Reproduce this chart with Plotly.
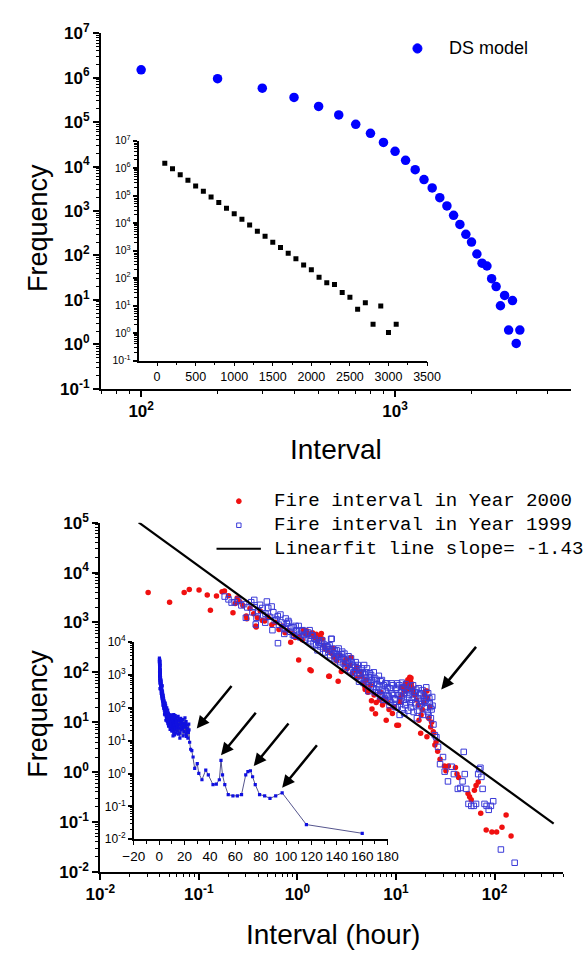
import plotly.graph_objects as go
import math

# ---------------- data ----------------
# DS model (top panel): interval vs frequency
ds_interval = [100, 200, 300, 400, 500, 600, 700, 800, 900, 1000, 1100, 1200, 1300, 1400, 1500, 1600,
               1700, 1800, 1900, 2000, 2100, 2200, 2300, 2400, 2500, 2600, 2700, 2800, 2900, 3000, 3100]
ds_freq = [1.5e6, 9.5e5, 5.8e5, 3.6e5, 2.25e5, 1.45e5, 8.9e4, 5.6e4, 3.5e4, 2.2e4, 1.38e4, 8.5e3, 5.1e3,
           3.3e3, 2.0e3, 1.3e3, 800, 500, 300, 200, 108, 67, 58, 30, 20, 7.4, 12.6, 2.1, 9.7, 1.05, 2.1]

# Fire interval in year 1999 (hours, frequency)
fire1999_x = [0.183, 0.2, 0.215, 0.231, 0.25, 0.27, 0.288, 0.3, 0.31, 0.34, 0.35, 0.365, 0.369, 0.378, 0.385,
              0.4, 0.418, 0.439, 0.45, 0.472, 0.474, 0.49,
              0.506, 0.52, 0.548, 0.558, 0.57, 0.59, 0.612, 0.632, 0.635, 0.65, 0.673, 0.69, 0.71, 0.736, 0.748,
              0.76, 0.78, 0.81, 0.822, 0.85, 0.87, 0.9, 0.918, 0.93, 0.96, 0.98,
              1.03, 1.04, 1.07, 1.1, 1.13, 1.16, 1.2, 1.24, 1.28, 1.3, 1.33, 1.36, 1.39, 1.43, 1.46, 1.5, 1.55,
              1.6, 1.63, 1.65, 1.7, 1.75, 1.79, 1.83, 1.87, 1.92, 1.96, 2.0,
              2.02, 2.06, 2.1, 2.12, 2.15, 2.2, 2.23, 2.28, 2.33, 2.38, 2.4, 2.45, 2.5, 2.55, 2.59, 2.62, 2.65,
              2.72, 2.8, 2.85, 2.88, 2.95, 3.0, 3.05, 3.08, 3.15, 3.25, 3.3, 3.35, 3.45, 3.5, 3.55, 3.62, 3.7,
              3.76, 3.85, 3.9, 3.95, 4.05, 4.1, 4.15, 4.22, 4.3, 4.4, 4.52, 4.6, 4.69, 4.75, 4.8, 4.9,
              5.0, 5.08, 5.15, 5.25, 5.3, 5.43, 5.55, 5.6, 5.7, 5.85, 5.95, 6.0, 6.1, 6.15, 6.3, 6.38, 6.45,
              6.6, 6.7, 6.8, 6.9, 7.0, 7.15, 7.2, 7.31, 7.4, 7.5, 7.7, 7.8, 7.9, 8.0, 8.1, 8.2, 8.3, 8.47, 8.6,
              8.7, 8.9, 9.0, 9.1, 9.3, 9.4, 9.5, 9.7, 9.83, 9.9, 10.0,
              10.2, 10.3, 10.4, 10.6, 10.8, 10.9, 11.0, 11.2, 11.4, 11.5, 11.6, 11.8, 12.0, 12.1, 12.2, 12.4,
              12.6, 12.7, 12.9, 13.1, 13.3, 13.4, 13.6, 13.9, 14.0, 14.2, 14.5, 14.8, 14.9, 15.1, 15.4, 15.7,
              15.8, 16.0, 16.3, 16.5, 16.8, 17.0, 17.2, 17.6, 17.9, 18.0, 18.4, 18.6, 18.8, 19.2, 19.4, 19.6,
              20.0, 20.3, 20.6, 21.0, 21.2, 21.4, 21.8, 22.0, 22.3, 22.6, 23.0, 23.3, 23.5, 24.0, 24.8,
              25.7, 26.7, 28.0, 30.0, 31.2, 33.7, 36.7, 38.7, 42.4, 45.0, 47.4, 48.7, 49.9, 51.7, 54.4, 58.1,
              61.6, 64.9, 68.2, 69.9, 71.9, 73.6, 75.7, 79.1, 83.1, 87.3, 91.8, 96.9, 116, 160]
fire1999_y = [3300, 2900, 2500, 2550, 2830, 2200, 2330, 1240, 2000, 2550, 1600, 2830, 2010, 912, 1240,
              1700, 2260, 1950, 1400, 990, 1500, 2630,
              1950, 1300, 2090, 700, 1600, 1100, 1150, 1340, 384, 900, 1440, 1000, 800, 590, 732,
              1200, 950, 1070, 990, 650, 800, 560, 794, 544, 852, 700,
              850, 590, 501, 680, 700, 560, 450, 600, 631, 480, 700, 420, 544, 544, 380, 470, 350,
              276, 400, 434, 330, 390, 434, 300, 360, 250, 330, 320,
              331, 260, 290, 350, 220, 468, 468, 300, 240, 190, 270, 200, 276, 230, 176, 300, 210,
              160, 230, 260, 190, 150, 237, 120, 180, 130, 170, 210, 150, 110, 190, 160, 140, 100,
              96, 130, 160, 110, 85, 140, 120, 65, 95, 75, 120, 100, 61, 140, 90, 70,
              100, 120, 65, 42, 80, 96, 55, 88, 70, 48, 100, 62, 40, 75, 45, 70, 58,
              38, 85, 52, 33, 66, 35, 70, 45, 28, 55, 30, 60, 42, 35, 60, 50, 28, 33.6, 22,
              48, 25, 60, 38, 55, 35, 22, 30, 28.9, 20, 45,
              48.9, 60, 20, 35, 55, 14, 26, 40, 33.6, 62, 18, 50, 28, 15, 38, 22,
              58, 24.8, 45, 30, 17, 42, 36, 52, 24, 19.8, 28, 40, 55, 16, 32, 24,
              40, 45, 12, 17.1, 30, 48, 21, 38, 36, 26, 23.1, 44, 14, 34, 26, 19,
              27, 50, 31.1, 16, 38, 13.6, 30, 24, 20, 12, 18, 32, 21.4, 9, 5.5,
              5.0, 3.2, 1.44, 2.0, 1.02, 0.65, 1.28, 0.91, 0.46, 0.48, 0.65, 2.54, 0.91, 0.46, 0.23, 0.21,
              0.21, 0.23, 0.91, 1.14, 1.22, 0.8, 0.46, 0.23, 0.21, 0.175, 0.21, 0.26, 0.028, 0.0152]

# Fire interval in year 2000 (hours, frequency)
fire2000_x = [0.0306, 0.0505, 0.071, 0.080, 0.1005, 0.1217, 0.131, 0.151, 0.172, 0.182, 0.2, 0.222, 0.234,
              0.245, 0.26, 0.28, 0.303, 0.307, 0.33, 0.36, 0.378, 0.382, 0.393, 0.42, 0.44, 0.466, 0.5, 0.55,
              0.6, 0.65, 0.7, 0.75, 0.8, 0.855, 0.9, 0.95, 1.03, 1.05, 1.12, 1.15, 1.2, 1.24, 1.3, 1.34, 1.38,
              1.42, 1.45, 1.49, 1.55, 1.6, 1.66, 1.72, 1.75, 1.79, 1.85, 1.9, 2.0, 2.08, 2.11, 2.2, 2.3, 2.35,
              2.5, 2.59, 2.7, 2.79, 3.0, 3.1, 3.2, 3.4, 3.5, 3.6, 3.9, 4.0, 4.1, 4.35, 4.52, 4.7, 4.83, 4.87,
              5.0, 5.2, 5.5, 5.64, 5.71, 6.0, 6.2, 6.3, 6.8, 7.0, 7.3, 7.6, 7.96, 8.2, 8.5, 9.2, 9.6, 10.2,
              10.6, 10.9, 11.0, 11.3, 11.5, 12.0, 12.3, 12.5, 12.7, 13.0, 13.2, 13.5, 13.7, 13.8, 14.0, 14.2,
              14.3, 14.5, 14.8, 15.0, 15.5, 16.2, 16.8, 17.1, 17.8, 18.0, 18.5, 19.2, 19.5, 19.9, 20.6, 20.6,
              21.0, 21.5, 22.0, 22.5, 23.0, 23.9, 24.2, 24.8, 25.5, 26.5, 28.0, 31.0, 32.1, 34.0, 40.1, 41.6,
              43.2, 53.8, 55.8, 58.0, 62.5, 64.9, 68.3, 72.4, 82.3, 94.0, 105, 119, 131, 147]
fire2000_y = [4000, 2550, 4000, 4600, 4450, 3550, 1760, 3400, 4140, 4250, 3450, 1560, 2410,
              3100, 2600, 2200, 1340, 1190, 1900, 1500, 851, 815, 1240, 1700, 1100, 1070, 1300, 900,
              1000, 720, 850, 620, 700, 402, 600, 500, 176, 520, 450, 700, 600, 680, 560, 112, 108,
              620, 560, 500, 580, 420, 544, 480, 600, 468, 350, 300, 276, 83, 83, 240, 300, 200,
              170, 66, 220, 104, 150, 180, 120, 140, 200, 95, 110, 130, 80, 104, 83, 60, 52, 45,
              70, 40, 55, 26.8, 18.4, 35, 14.7, 24.8, 28, 40, 22, 30, 10.9, 25, 18, 15, 20, 8.7,
              8.7, 30, 25, 50, 35, 45, 42, 60, 53, 62, 71, 57, 45, 80, 66, 77,
              60, 50, 45, 40, 35, 28, 22, 10.9, 5.97, 14, 18, 25, 35, 42, 42, 5.1,
              30, 12, 20, 8, 10, 6.4, 6, 3.5, 4.0, 2.6, 1.8, 1.32, 1.06, 1.32, 1.23, 0.91,
              0.78, 0.37, 0.32, 0.28, 0.43, 0.54, 0.63, 0.15, 0.069, 0.063, 0.063, 0.0785, 0.137, 0.052]

# Linear fit line (slope = -1.43), end points
fit_x = [0.0245, 398]
fit_y = [1.016e5, 0.0925]

# Arrow targets: (x, y) in data units
inset_arrow_targets = [(29.6, 23.5), (48.7, 3.6), (74.5, 1.7), (96.9, 0.37)]
main_arrow_target = (28.8, 45.5)

# ---------------- geometry helpers ----------------
W, H = 586, 959
def fx(p):
    return p / W
def fy(p):
    return 1 - p / H

def sup_labels(exps):
    return ["10<sup>%d</sup>" % e for e in exps]

BOLD = dict(family="Liberation Sans", size=17, color="black", weight="bold")
REG = "Liberation Sans"

# inset line needs points ordered by x
order = sorted(range(len(fire1999_x)), key=lambda i: fire1999_x[i])
inset_x = [fire1999_x[i] for i in order]
inset_y = [fire1999_y[i] for i in order]

fig = go.Figure()

# top main: DS model
fig.add_trace(go.Scatter(x=ds_interval, y=ds_freq, mode="markers", xaxis="x", yaxis="y",
                         marker=dict(symbol="circle", size=9.5, color="#0000ff"), showlegend=False))
# top inset: same data on linear x
fig.add_trace(go.Scatter(x=ds_interval, y=ds_freq, mode="markers", xaxis="x3", yaxis="y3",
                         marker=dict(symbol="square", size=5, color="black"), showlegend=False))
# bottom main
fig.add_trace(go.Scatter(x=fire2000_x, y=fire2000_y, mode="markers", xaxis="x2", yaxis="y2",
                         marker=dict(symbol="circle", size=5.5, color="#f01010"), showlegend=False))
fig.add_trace(go.Scatter(x=fire1999_x, y=fire1999_y, mode="markers", xaxis="x2", yaxis="y2",
                         marker=dict(symbol="square-open", size=5.5, color="#3a3ad8",
                                     line=dict(width=1)), showlegend=False))
fig.add_trace(go.Scatter(x=fit_x, y=fit_y, mode="lines", xaxis="x2", yaxis="y2",
                         line=dict(color="black", width=2.2), showlegend=False))
# bottom inset: 1999 data on linear x
fig.add_trace(go.Scatter(x=inset_x, y=inset_y, mode="lines+markers", xaxis="x4", yaxis="y4",
                         line=dict(color="#2a2a70", width=0.8),
                         marker=dict(symbol="square", size=3.2, color="#1010e0"), showlegend=False))

def log_axis(domain, rng, tick_exps, anchor, font=BOLD, lw=2, tl=6, mtl=3.5):
    return dict(type="log", domain=domain, range=rng, anchor=anchor,
                tickmode="array", tickvals=[10 ** e for e in tick_exps], ticktext=sup_labels(tick_exps),
                showline=True, linecolor="black", linewidth=lw, ticks="outside", ticklen=tl,
                tickwidth=lw, tickcolor="black", showgrid=False, zeroline=False, tickfont=font,
                minor=dict(ticks="outside", ticklen=mtl, tickwidth=1.1, tickcolor="black",
                           dtick="D1", showgrid=False))

def lin_axis(domain, rng, dtick, mdtick, anchor, font):
    return dict(type="linear", domain=domain, range=rng, anchor=anchor, tick0=0, dtick=dtick,
                tickangle=0, showline=True, linecolor="black", linewidth=1.5, ticks="outside", ticklen=4,
                tickwidth=1.3, tickcolor="black", showgrid=False, zeroline=False, tickfont=font,
                minor=dict(ticks="outside", ticklen=2.5, tickwidth=1, tickcolor="black",
                           dtick=mdtick, showgrid=False))

inset_font_top = dict(family=REG, size=12.5, color="black")
inset_font_bot = dict(family=REG, size=13.5, color="black")
inset_yfont_top = dict(family=REG, size=10.5, color="black")
inset_yfont_bot = dict(family=REG, size=12, color="black")

layout = dict(
    width=W, height=H, margin=dict(l=0, r=0, t=0, b=0),
    paper_bgcolor="white", plot_bgcolor="rgba(0,0,0,0)",
    showlegend=False,
    xaxis=log_axis([fx(90.5), fx(585)], [1.842, 3.693], [2, 3], "y"),
    yaxis=log_axis([fy(385.7), fy(21.7)], [-1, 7], list(range(-1, 8)), "x"),
    xaxis2=log_axis([fx(89.7), fx(577)], [-2, 2.699], [-2, -1, 0, 1, 2], "y2"),
    yaxis2=log_axis([fy(880), fy(522.7)], [-2, 5], list(range(-2, 6)), "x2"),
    xaxis3=lin_axis([fx(130), fx(433.5)], [-240, 3500], 500, 250, "y3", inset_font_top),
    yaxis3=log_axis([fy(356.7), fy(131.7)], [-1, 7], list(range(-1, 8)), "x3",
                    font=inset_yfont_top, lw=1.5, tl=4, mtl=2.5),
    xaxis4=lin_axis([fx(125), fx(392)], [-20, 180], 20, 10, "y4", inset_font_bot),
    yaxis4=log_axis([fy(846.7), fy(645)], [-2, 4], list(range(-2, 5)), "x4",
                    font=inset_yfont_bot, lw=1.5, tl=4, mtl=2.5),
)

annotations = []
def title(text, x, y, size, angle=0, anchor="center", family=REG):
    annotations.append(dict(text=text, xref="paper", yref="paper", x=fx(x), y=fy(y), showarrow=False,
                            xanchor=anchor, yanchor="middle", textangle=angle,
                            font=dict(family=family, size=size, color="black")))

title("Frequency", 23.4, 220.8, 27, angle=-90)
title("Interval", 338, 448, 28)
title("Frequency", 23.4, 718, 27, angle=-90)
title("Interval (hour)", 334.5, 944, 28)
title("DS model", 454, 37.3, 18, anchor="left")
title("Fire interval in Year 2000", 270, 500.5, 19.1, anchor="left", family="Liberation Mono")
title("Fire interval in Year 1999", 270, 525, 19.1, anchor="left", family="Liberation Mono")
title("Linearfit line slope= -1.43", 270, 549.5, 19.1, anchor="left", family="Liberation Mono")

for (ax_, ay_) in inset_arrow_targets:
    annotations.append(dict(x=ax_, y=math.log10(ay_), xref="x4", yref="y4", text="", showarrow=True,
                            ax=36, ay=-44, arrowhead=2, arrowsize=1, arrowwidth=2.5,
                            arrowcolor="black", standoff=0))
annotations.append(dict(x=math.log10(main_arrow_target[0]), y=math.log10(main_arrow_target[1]),
                        xref="x2", yref="y2", text="", showarrow=True, ax=36, ay=-44, arrowhead=2,
                        arrowsize=1, arrowwidth=2.5, arrowcolor="black", standoff=0))
layout["annotations"] = annotations

# legend keys (drawn as shapes in paper space)
def circ(cx, cy, d, color, fill):
    return dict(type="circle", xref="paper", yref="paper", x0=fx(cx - d / 2), x1=fx(cx + d / 2),
                y0=fy(cy + d / 2), y1=fy(cy - d / 2), line=dict(color=color, width=1), fillcolor=fill)

shapes = [
    circ(423.4, 37.3, 9.5, "#0000ff", "#0000ff"),
    circ(235.5, 500.7, 5, "#f01010", "#f01010"),
    dict(type="rect", xref="paper", yref="paper", x0=fx(233.2), x1=fx(237.8), y0=fy(527.6), y1=fy(523),
         line=dict(color="#3a3ad8", width=1), fillcolor="rgba(0,0,0,0)"),
    dict(type="line", xref="paper", yref="paper", x0=fx(212), x1=fx(258.7), y0=fy(549.3), y1=fy(549.3),
         line=dict(color="black", width=2)),
]
layout["shapes"] = shapes

fig.update_layout(**layout)
fig.write_html("out.html", config={"displayModeBar": False},
               post_script="document.body.style.margin='0px';")
